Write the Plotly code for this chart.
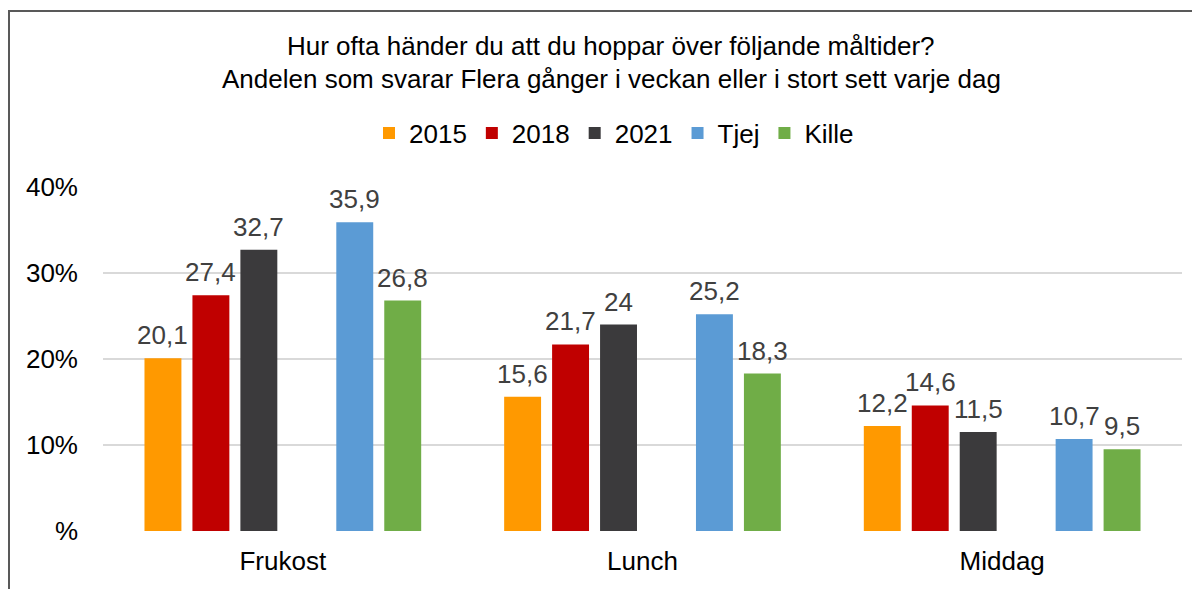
import plotly.graph_objects as go

categories = ["Frukost", "Lunch", "Middag"]
series_names = ["2015", "2018", "2021", "Tjej", "Kille"]
v2015 = [20.1, 15.6, 12.2]
v2018 = [27.4, 21.7, 14.6]
v2021 = [32.7, 24, 11.5]
vTjej = [35.9, 25.2, 10.7]
vKille = [26.8, 18.3, 9.5]
tick_vals = [0, 10, 20, 30, 40]
tick_text = ["%", "10%", "20%", "30%", "40%"]
title1 = "Hur ofta händer du att du hoppar över följande måltider?"
title2 = "Andelen som svarar Flera gånger i veckan eller i stort sett varje dag"

colors = {"2015": "#FF9900", "2018": "#C00000", "2021": "#3B3A3C",
          "Tjej": "#5B9BD5", "Kille": "#70AD47"}

FONT = "Liberation Sans, Arial, sans-serif"
FS = 26
OFF = 8  # page body margin

def fmt(v):
    return ("%g" % v).replace(".", ",")

data = {"2015": v2015, "2018": v2018, "2021": v2021, "Tjej": vTjej, "Kille": vKille}
slots = ["2015", "2018", "2021", None, "Tjej", "Kille"]
BARGAP = 0.2
nslots = len(slots)
slot_w = (1 - BARGAP) / nslots

fig = go.Figure()
annotations = []
for i, name in enumerate(slots):
    if name is None:
        fig.add_trace(go.Bar(x=categories, y=[None] * len(categories), name="",
                             showlegend=False, hoverinfo="skip"))
        continue
    vals = data[name]
    fig.add_trace(go.Bar(
        x=categories, y=vals, name=name,
        marker=dict(color=colors[name], line=dict(width=0)),
        hovertemplate="%{x}: %{y}<extra>" + name + "</extra>",
    ))
    for ci, v in enumerate(vals):
        annotations.append(dict(
            x=ci + (i - (nslots - 1) / 2) * slot_w, y=v, xref="x", yref="y",
            text=fmt(v), showarrow=False, xanchor="center", yanchor="bottom",
            yshift=6, font=dict(size=FS, color="#404040", family=FONT)))

W, H = 1200 - OFF, 589 - OFF
L, R, T, B = 103 - OFF, 18, 187 - OFF, 58
pw = W - L - R
ph = H - T - B

def px_x(x):
    return (x - OFF - L) / pw

def px_y(y):
    return (H - B - (y - OFF)) / ph

annotations += [
    dict(text=title1, x=px_x(611), y=px_y(46), xref="paper", yref="paper",
         showarrow=False, xanchor="center", yanchor="middle",
         font=dict(size=FS, color="black", family=FONT)),
    dict(text=title2, x=px_x(611), y=px_y(79), xref="paper", yref="paper",
         showarrow=False, xanchor="center", yanchor="middle",
         font=dict(size=FS, color="black", family=FONT)),
]

fig.update_layout(
    width=W, height=H,
    margin=dict(l=L, r=R, t=T, b=B, autoexpand=False),
    paper_bgcolor="white", plot_bgcolor="white",
    font=dict(family=FONT, size=FS, color="black"),
    barmode="group", bargap=BARGAP, bargroupgap=0.23,
    showlegend=True,
    legend=dict(orientation="h", x=px_x(614), xanchor="center",
                y=px_y(133), yanchor="middle",
                font=dict(size=FS, color="black", family=FONT),
                itemwidth=30, tracegroupgap=0, traceorder="normal"),
    xaxis=dict(showgrid=False, showline=False, ticks="", tickfont=dict(size=FS),
               ticklabelstandoff=12),
    yaxis=dict(range=[0, 40], tickvals=tick_vals, ticktext=tick_text,
               showgrid=True, gridcolor="#D9D9D9", gridwidth=2,
               zeroline=False, showline=False, ticks="",
               tickfont=dict(size=FS), ticklabelstandoff=24),
    annotations=annotations,
    shapes=[
        dict(type="rect", xref="paper", yref="paper",
             x0=px_x(9), x1=px_x(1260), y0=px_y(640), y1=px_y(11),
             line=dict(color="#595959", width=2), fillcolor="rgba(0,0,0,0)",
             layer="below"),
    ],
)

fig.write_html("out.html")
